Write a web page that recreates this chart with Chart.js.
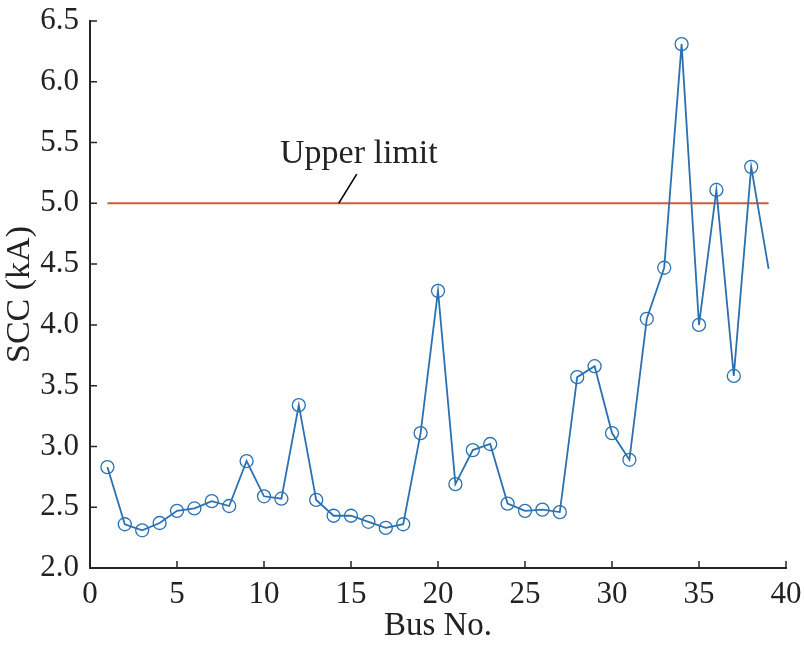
<!DOCTYPE html>
<html>
<head>
<meta charset="utf-8">
<script src="https://cdn.jsdelivr.net/npm/chart.js@4.4.1/dist/chart.umd.min.js"></script>
<style>
html,body{margin:0;padding:0;background:#fff;}
#wrap{width:804px;height:646px;position:relative;}
</style>
</head>
<body>
<div id="wrap"><canvas id="c" width="804" height="646"></canvas></div>
<script>
const busNumbers = [1,2,3,4,5,6,7,8,9,10,11,12,13,14,15,16,17,18,19,20,21,22,23,24,25,26,27,28,29,30,31,32,33,34,35,36,37,38,39];
const sccValues = [2.83,2.36,2.31,2.37,2.47,2.49,2.55,2.51,2.88,2.59,2.57,3.34,2.56,2.43,2.43,2.38,2.33,2.36,3.11,4.28,2.69,2.97,3.02,2.53,2.47,2.48,2.46,3.57,3.66,3.11,2.89,4.05,4.47,6.31,4.00,5.11,3.58,5.30,4.46];
const limitBuses = [1,39];
const limitValues = [5.0,5.0];
const yTickLabels = ['2.0','2.5','3.0','3.5','4.0','4.5','5.0','5.5','6.0','6.5'];
const xTickLabels = ['0','5','10','15','20','25','30','35','40'];
const annotationText = 'Upper limit';

const FONT = "'Liberation Serif','Times New Roman',serif";
const AXIS_COLOR = '#262626';

const inwardTicks = {
  id: 'inwardTicks',
  afterDraw(chart) {
    const ctx = chart.ctx;
    const xs = chart.scales.x, ys = chart.scales.y;
    const area = chart.chartArea;
    ctx.save();
    ctx.strokeStyle = AXIS_COLOR;
    ctx.lineWidth = 1.5;
    ctx.beginPath();
    xs.ticks.forEach(t => {
      const px = xs.getPixelForValue(t.value);
      ctx.moveTo(px, area.bottom);
      ctx.lineTo(px, area.bottom - 7);
    });
    ys.ticks.forEach(t => {
      const py = ys.getPixelForValue(t.value);
      ctx.moveTo(area.left, py);
      ctx.lineTo(area.left + 7, py);
    });
    ctx.stroke();
    // annotation pointer + label
    ctx.strokeStyle = '#000';
    ctx.lineWidth = 1.6;
    ctx.beginPath();
    ctx.moveTo(xs.getPixelForValue(14.29), ys.getPixelForValue(5.0));
    ctx.lineTo(xs.getPixelForValue(15.33), ys.getPixelForValue(5.24));
    ctx.stroke();
    ctx.fillStyle = '#222';
    ctx.font = '34px ' + FONT;
    ctx.textAlign = 'center';
    ctx.textBaseline = 'alphabetic';
    ctx.fillText(annotationText, xs.getPixelForValue(15.45), ys.getPixelForValue(5.33));
    ctx.restore();
  }
};

new Chart(document.getElementById('c'), {
  type: 'line',
  data: {
    datasets: [
      {
        label: 'SCC',
        data: busNumbers.map((b, i) => ({x: b, y: sccValues[i]})),
        borderColor: '#2b71b1',
        borderWidth: 1.8,
        pointStyle: 'circle',
        pointRadius: ctx => ctx.dataIndex === busNumbers.length - 1 ? 0 : 6.5,
        pointBorderColor: '#2b71b1',
        pointBackgroundColor: 'rgba(0,0,0,0)',
        pointBorderWidth: 1.3,
        tension: 0,
        fill: false
      },
      {
        label: 'Upper limit',
        data: limitBuses.map((b, i) => ({x: b, y: limitValues[i]})),
        borderColor: '#c9603a',
        borderWidth: 2,
        pointRadius: 0,
        fill: false
      }
    ]
  },
  options: {
    responsive: false,
    animation: false,
    layout: { padding: { top: 21, right: 18, left: 0, bottom: 0 } },
    plugins: { legend: { display: false }, tooltip: { enabled: false } },
    scales: {
      x: {
        type: 'linear',
        min: 0, max: 40,
        afterFit: s => { s.height = 78; s.paddingLeft = 0; s.paddingRight = 0; },
        afterBuildTicks: s => { s.ticks = xTickLabels.map(v => ({value: Number(v)})); },
        grid: { display: true, drawOnChartArea: false, drawTicks: false },
        border: { display: true, color: AXIS_COLOR, width: 2 },
        ticks: {
          color: '#222', font: { family: FONT, size: 31 }, padding: 8,
          maxRotation: 0, autoSkip: false,
          callback: (v) => xTickLabels[xTickLabels.indexOf(String(v))]
        },
        title: { display: true, text: 'Bus No.', color: '#222', font: { family: FONT, size: 33 }, padding: { top: 0, bottom: 0 } }
      },
      y: {
        type: 'linear',
        min: 2.0, max: 6.5,
        afterFit: s => { s.width = 90; s.paddingTop = 0; s.paddingBottom = 0; },
        afterBuildTicks: s => { s.ticks = yTickLabels.map(v => ({value: Number(v)})); },
        grid: { display: true, drawOnChartArea: false, drawTicks: false },
        border: { display: true, color: AXIS_COLOR, width: 2 },
        ticks: {
          color: '#222', font: { family: FONT, size: 31, lineHeight: 0.6 }, padding: 11,
          autoSkip: false,
          callback: (v) => yTickLabels[yTickLabels.indexOf(Number(v).toFixed(1))]
        },
        title: { display: true, text: 'SCC (kA)', color: '#222', font: { family: FONT, size: 34 }, padding: { top: 0, bottom: 0 } }
      }
    }
  },
  plugins: [inwardTicks]
});
</script>
</body>
</html>
